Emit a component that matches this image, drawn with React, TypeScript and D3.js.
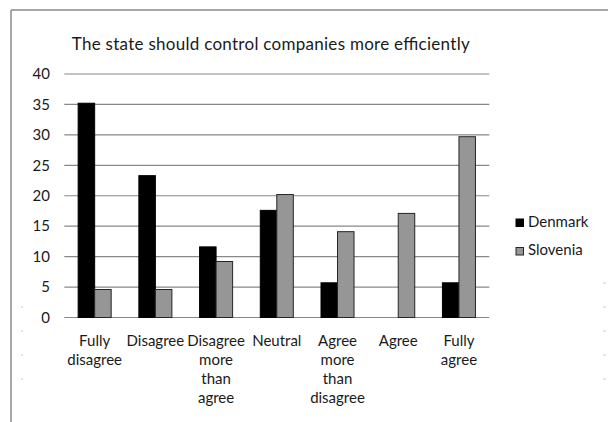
import React from "react";
import * as d3 from "d3";

const categories = [
  "Fully disagree",
  "Disagree",
  "Disagree more than agree",
  "Neutral",
  "Agree more than disagree",
  "Agree",
  "Fully agree",
];
const categoryLines = [
  ["Fully", "disagree"],
  ["Disagree"],
  ["Disagree", "more", "than", "agree"],
  ["Neutral"],
  ["Agree", "more", "than", "disagree"],
  ["Agree"],
  ["Fully", "agree"],
];
const denmark = [35.2, 23.3, 11.6, 17.6, 5.7, 0, 5.7];
const slovenia = [4.6, 4.6, 9.2, 20.2, 14.1, 17.1, 29.7];
const seriesNames = ["Denmark", "Slovenia"];
const yTicks = [0, 5, 10, 15, 20, 25, 30, 35, 40];
const title = "The state should control companies more efficiently";

const W = 608;
const H = 422;
const FONT = "Lato, 'Open Sans', sans-serif";

export default function App() {
  const plotL = 64.3;
  const plotR = 489.3;
  const plotT = 74;
  const plotB = 317.5;

  const x = d3
    .scaleBand<string>()
    .domain(categories)
    .range([plotL, plotR])
    .paddingInner(0.456)
    .paddingOuter(0.228);
  const xs = d3.scaleBand<string>().domain(seriesNames).range([0, x.bandwidth()]).padding(0);
  const y = d3.scaleLinear().domain([0, 40]).range([plotB, plotT]);

  const colors = { Denmark: "#000000", Slovenia: "#969696" } as Record<string, string>;
  const data = [denmark, slovenia];

  const leftDots = [307, 331, 355, 379];
  const rightDots = [283, 307, 331, 355, 379];

  return (
    <svg
      width={W}
      height={H}
      style={{ position: "absolute", left: 0, top: 0, background: "#fff" }}
      fontFamily={FONT}
    >
      <rect x={0} y={0} width={W} height={H} fill="#fff" />
      {/* frame */}
      <line x1={11} y1={10} x2={W} y2={10} stroke="#8a8a8a" strokeWidth={1.5} />
      <line x1={11} y1={10} x2={11} y2={H} stroke="#8a8a8a" strokeWidth={1.5} />
      {leftDots.map((d) => (
        <rect key={"l" + d} x={21} y={d - 0.5} width={2} height={1} fill="#d0d0d0" />
      ))}
      {rightDots.map((d) => (
        <rect key={"r" + d} x={603} y={d - 0.5} width={3} height={1} fill="#d0d0d0" />
      ))}

      <text
        x={71.7}
        y={50}
        fontSize={17}
        fill="#1a1a1a"
        textLength={398}
        lengthAdjust="spacing"
      >
        {title}
      </text>

      {/* gridlines */}
      {yTicks.map((t) => (
        <line
          key={t}
          x1={plotL}
          x2={plotR}
          y1={y(t)}
          y2={y(t)}
          stroke="#888"
          strokeWidth={1.2}
        />
      ))}
      {yTicks.map((t) => (
        <text key={"yl" + t} x={50} y={y(t) + 5.3} textAnchor="end" fontSize={15} fill="#1a1a1a">
          {t}
        </text>
      ))}

      {/* bars */}
      {categories.map((c, i) => (
        <g key={c}>
          {seriesNames.map((s, j) => {
            const v = data[j][i];
            if (v <= 0) return null;
            const bx = (x(c) as number) + (xs(s) as number);
            return (
              <rect
                key={s}
                x={bx}
                y={y(v)}
                width={xs.bandwidth()}
                height={y(0) - y(v)}
                fill={colors[s]}
                stroke={j === 0 ? "#000" : "#262626"}
                strokeWidth={1}
              />
            );
          })}
        </g>
      ))}

      {/* x labels */}
      {categories.map((c, i) => {
        const cx = (x(c) as number) + x.bandwidth() / 2;
        return (
          <text key={"xl" + c} textAnchor="middle" fontSize={15} fill="#1a1a1a">
            {categoryLines[i].map((ln, k) => (
              <tspan key={k} x={cx} y={345.5 + k * 19.3}>
                {ln}
              </tspan>
            ))}
          </text>
        );
      })}

      {/* legend */}
      {seriesNames.map((s, j) => (
        <g key={s} transform={`translate(516, ${219 + j * 28.5})`}>
          <rect x={0} y={0} width={7.5} height={7.5} fill={colors[s]} stroke={j === 0 ? "#000" : "#262626"} strokeWidth={1} />
          <text x={12} y={7.8} fontSize={15} fill="#1a1a1a">
            {s}
          </text>
        </g>
      ))}
    </svg>
  );
}
